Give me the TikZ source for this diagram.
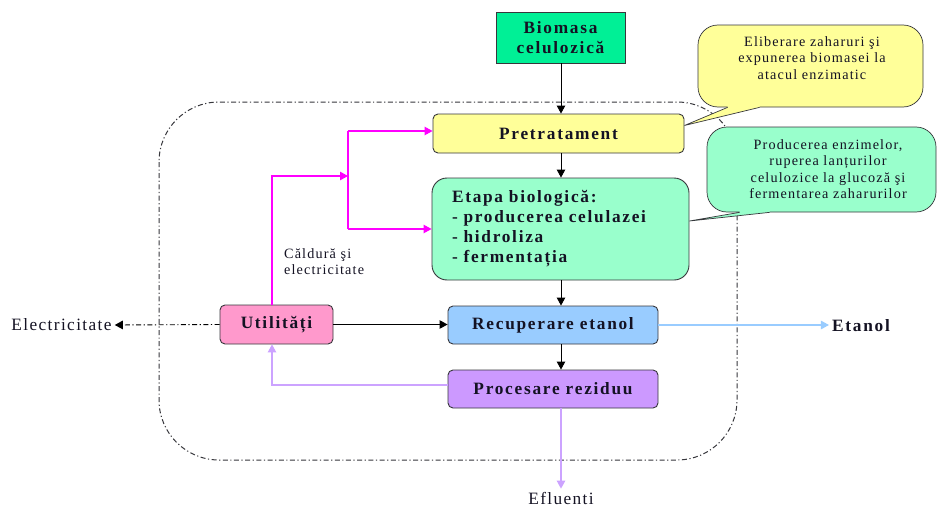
\documentclass[tikz,border=0pt]{standalone}
\usepackage{fontspec}
\setmainfont{Liberation Serif}[LetterSpace=8]
\newfontfamily\boxfont{Liberation Serif}[LetterSpace=10]
\usetikzlibrary{arrows.meta,calc}

\definecolor{biogreen}{RGB}{0,240,150}
\definecolor{preyellow}{HTML}{FFFF99}
\definecolor{etgreen}{HTML}{99FFCC}
\definecolor{recblue}{HTML}{99CCFF}
\definecolor{resviolet}{HTML}{CC99FF}
\definecolor{utilpink}{HTML}{FF99CC}
\definecolor{heatmag}{HTML}{FF00FF}
\definecolor{resline}{HTML}{CCA3FF}
\definecolor{boxline}{RGB}{55,55,60}
\definecolor{ink}{RGB}{20,18,35}

\tikzset{
  procbox/.style={draw=boxline, line width=0.9pt, rounded corners=5pt,
    inner sep=0pt, align=center, text=ink,
    font=\boxfont\bfseries\fontsize{17.3}{20}\selectfont},
  calloutbox/.style={draw=boxline, line width=0.7pt, rounded corners=20pt},
  calltext/.style={align=center, text=ink, inner sep=0pt,
    font=\fontsize{14.2}{16.5}\selectfont},
  plainlabel/.style={text=ink, inner sep=3pt,
    font=\fontsize{17.3}{20}\selectfont},
  boldlabel/.style={text=ink, inner sep=3pt,
    font=\boxfont\bfseries\fontsize{17.3}{20}\selectfont},
  smalllabel/.style={text=ink, inner sep=0pt, align=left,
    font=\fontsize{14.2}{16}\selectfont},
  tip/.style={-{Triangle[length=8pt,width=8.5pt]}},
  flow/.style={tip, draw=black, line width=0.9pt},
  heatline/.style={draw=heatmag, line width=1.1pt},
  heatflow/.style={heatline, tip},
  etohflow/.style={draw=recblue, line width=1.1pt, tip},
  resflow/.style={draw=resline, line width=1.1pt, tip},
  elecflow/.style={draw=black, line width=0.9pt, tip,
    dash pattern=on 5pt off 2.5pt on 1.2pt off 2.5pt},
  boundary/.style={draw=boxline, line width=1pt, rounded corners=60pt,
    dash pattern=on 5pt off 2.5pt on 1.2pt off 2.5pt},
}

\begin{document}
\begin{tikzpicture}[x=1pt, y=-1pt]
  \fill[white] (0,0) rectangle (938,506);
  \useasboundingbox (0,0) rectangle (938,506);

  % plant boundary
  \draw[boundary] (159,102) rectangle (737,460);

  % guide columns for the vertical connectors
  \coordinate (axis) at (561,0);
  \coordinate (tap) at (272,0);
  \coordinate (split) at (348,176);

  % process blocks
  \node[procbox, fill=biogreen, sharp corners, minimum width=129pt,
        minimum height=51pt] (bio) at (560.5,37.5) {Biomasa\\celulozică};
  \node[procbox, fill=preyellow, minimum width=251pt, minimum height=39pt]
        (pre) at (558.5,133.5) {Pretratament};
  \node[procbox, fill=etgreen, rounded corners=15pt, align=left,
        text width=217pt, inner xsep=20pt, minimum height=102pt]
        (biostage) at (560.5,229)
        {Etapa biologică:\\- producerea celulazei\\- hidroliza\\- fermentația};
  \node[procbox, fill=recblue, minimum width=210pt, minimum height=38pt]
        (rec) at (553,325) {Recuperare etanol};
  \node[procbox, fill=resviolet, minimum width=210pt, minimum height=38pt]
        (res) at (553,389) {Procesare reziduu};
  \node[procbox, fill=utilpink, minimum width=113pt, minimum height=39pt]
        (util) at (276.5,324.5) {Utilități};

  % outputs
  \node[plainlabel] (elec) at (61.5,325) {Electricitate};
  \node[boldlabel] (etoh) at (861,326) {Etanol};
  \node[plainlabel] (efl) at (561,498) {Efluenti};
  \node[smalllabel, anchor=west] (heat) at (284,262)
        {Căldură şi\\electricitate};

  % main flow
  \draw[flow] (bio.south -| axis) -- (pre.north -| axis);
  \draw[flow] (pre.south -| axis) -- (biostage.north -| axis);
  \draw[flow] (biostage.south -| axis) -- (rec.north -| axis);
  \draw[flow] (rec.south -| axis) -- (res.north -| axis);
  \draw[flow] (util.east) -- (util.east -| rec.west);
  \draw[elecflow] (util.west) -- (elec.east);
  \draw[etohflow] (rec.east) -- (rec.east -| etoh.west);
  \draw[resflow] (res.south -| axis) -- (efl.north);
  \draw[resflow] ([yshift=4pt]res.west) -| (util.south -| tap);

  % heat and power supply
  \draw[heatflow] (util.north -| tap) |- (split);
  \draw[heatline] ([yshift=2.5pt]pre.west -| split) -- (biostage.west -| split);
  \draw[heatflow] ([yshift=2.5pt]pre.west -| split) -- ([yshift=2.5pt]pre.west);
  \draw[heatflow] (biostage.west -| split) -- (biostage.west);

  % callout: pretreatment
  \node[calloutbox, fill=preyellow, minimum width=225pt, minimum height=82pt]
        (c1) at (810.5,66) {};
  \fill[preyellow] ($(c1.south west)+(30,-2)$) -- ($(c1.south west)+(62,-2)$)
        -- ($(c1.south west)+(62,0)$) -- ([yshift=8pt]pre.east)
        -- ($(c1.south west)+(30,0)$) -- cycle;
  \draw[boxline, line width=0.7pt] ($(c1.south west)+(30,0)$)
        -- ([yshift=8pt]pre.east) -- ($(c1.south west)+(62,0)$);
  \node[calltext] (c1t) at (812,58)
        {Eliberare zaharuri şi\\expunerea biomasei la\\atacul enzimatic};

  % callout: biological stage
  \node[calloutbox, fill=etgreen, minimum width=229pt, minimum height=85pt]
        (c2) at (821.5,169.5) {};
  \fill[etgreen] ($(c2.south west)+(33,-2)$) -- ($(c2.south west)+(63,-2)$)
        -- ($(c2.south west)+(63,0)$) -- ([yshift=8pt]biostage.east)
        -- ($(c2.south west)+(33,0)$) -- cycle;
  \draw[boxline, line width=0.7pt] ($(c2.south west)+(33,0)$)
        -- ([yshift=8pt]biostage.east) -- ($(c2.south west)+(63,0)$);
  \node[calltext] (c2t) at (828,169)
        {Producerea enzimelor,\\ruperea lanțurilor\\celulozice la glucoză şi\\fermentarea zaharurilor};
\end{tikzpicture}
\end{document}
